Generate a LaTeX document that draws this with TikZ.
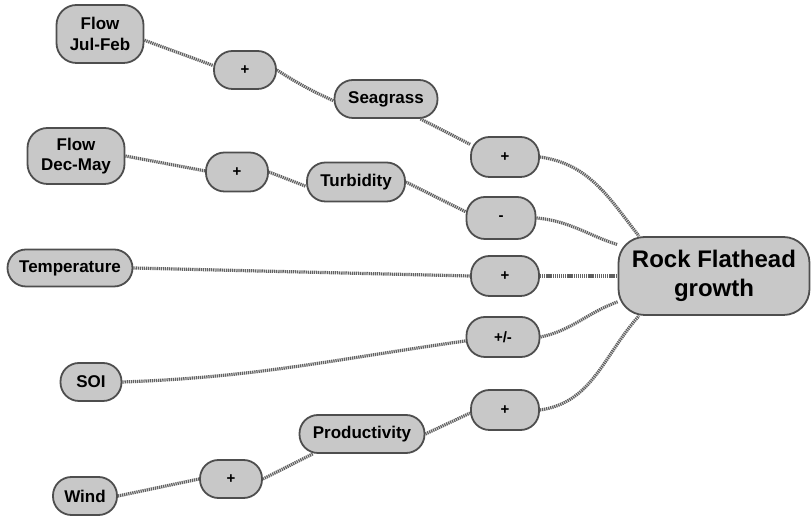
\documentclass[tikz,border=0pt]{standalone}
\usepackage{fontspec}
\setmainfont{Liberation Sans}
\begin{document}
\begin{tikzpicture}[x=1pt,y=1pt,
  box/.style={draw=boxline,fill=boxfill,line width=1.8pt,rounded corners=18.5pt,inner sep=0pt,align=center,font=\fontsize{17}{20.5}\selectfont\bfseries},
  sign/.style={box,minimum width=68pt,minimum height=40pt,font=\fontsize{15}{16}\selectfont\bfseries},
  link/.style={draw=linkc,line width=3.2pt,dash pattern=on 1.3pt off 0.8pt}]
\definecolor{boxfill}{HTML}{C8C8C8}
\definecolor{boxline}{HTML}{4E4E4E}
\definecolor{linkc}{HTML}{626262}
\useasboundingbox (0,0) rectangle (811,516);
% nodes
\node[box,minimum width=87pt,minimum height=58pt,rounded corners=20pt] (fjf) at (100,482) {Flow\\Jul-Feb};
\node[sign,minimum width=62pt,minimum height=38pt] (p1) at (245,446) {+};
\node[box,minimum width=103pt,minimum height=38pt] (sea) at (386,417) {Seagrass};
\node[sign] (p2) at (505,359) {+};
\node[box,minimum width=97pt,minimum height=56pt,rounded corners=20pt] (fdm) at (76,360) {Flow\\Dec-May};
\node[sign,minimum width=62pt,minimum height=39pt] (p3) at (237,344) {+};
\node[box,minimum width=98pt,minimum height=39pt] (tur) at (356,334) {Turbidity};
\node[sign,minimum width=69pt,minimum height=42pt] (m1) at (501,298) {-};
\node[box,minimum width=125pt,minimum height=37pt] (tmp) at (70,248) {Temperature};
\node[sign] (p4) at (505,240) {+};
\node[box,minimum width=191pt,minimum height=78pt,rounded corners=26pt,font=\fontsize{24}{29}\selectfont\bfseries] (rf) at (714,240) {Rock Flathead\\growth};
\node[sign,minimum width=73pt] (pm) at (503,179) {+/-};
\node[box,minimum width=61pt,minimum height=38pt] (soi) at (91,134) {SOI};
\node[sign] (p5) at (505,106) {+};
\node[box,minimum width=125pt,minimum height=38pt] (pro) at (362,82) {Productivity};
\node[sign,minimum width=62pt,minimum height=38pt] (p6) at (231,37) {+};
\node[box,minimum width=64pt,minimum height=38pt] (wnd) at (85,20) {Wind};
% links
\draw[link] (fjf.-8) -- (p1.172);
\draw[link] (p1.east) to[bend right=4] (sea.182);
\draw[link] (sea.-30) -- (p2.160);
\draw[link] (p2.east) to[out=-8,in=128] (rf.152);
\draw[link] (fdm.east) -- (p3.178);
\draw[link] (p3.east) -- (tur.185);
\draw[link] (tur.east) -- (m1.170);
\draw[link] (m1.east) to[out=-5,in=162] (rf.162);
\draw[link] (tmp.east) -- (p4.west);
\draw[link] (p4.east) -- (rf.west);
\draw[link] (pm.east) to[out=12,in=200] (rf.195);
\draw[link] (soi.east) to[out=2,in=188] (pm.186);
\draw[link] (p5.east) to[out=8,in=228] (rf.208);
\draw[link] (wnd.east) -- (p6.west);
\draw[link] (p6.east) -- (pro.202);
\draw[link] (pro.east) -- (p5.185);
\end{tikzpicture}
\end{document}
